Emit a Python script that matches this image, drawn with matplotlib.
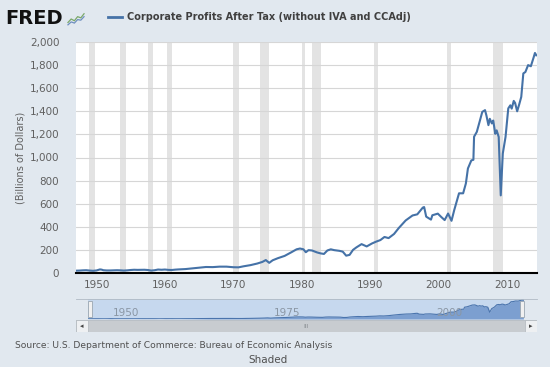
import numpy as np
import matplotlib
matplotlib.use("Agg")
import matplotlib.pyplot as plt
from matplotlib.patches import Rectangle

# quarterly-ish readings, billions of dollars
years = [1947.0, 1947.5, 1948.0, 1948.5, 1949.0, 1949.5, 1950.0, 1950.5, 1950.75,
         1951.0, 1951.5, 1952.0, 1953.0, 1953.5, 1954.0, 1954.5, 1955.0, 1955.5,
         1956.0, 1957.0, 1957.5, 1958.0, 1958.5, 1959.0, 1959.5, 1960.0, 1960.5,
         1961.0, 1961.5, 1962.0, 1963.0, 1964.0, 1965.0, 1966.0, 1967.0, 1968.0,
         1969.0, 1970.0, 1970.75, 1971.5, 1972.5, 1973.5, 1974.25, 1974.75, 1975.25,
         1975.75, 1976.5, 1977.5, 1978.5, 1979.25, 1979.75, 1980.25, 1980.6, 1981.0,
         1981.5, 1982.25, 1982.75, 1983.25, 1983.75, 1984.25, 1984.75, 1985.5, 1986.0,
         1986.5, 1987.0, 1987.5, 1988.0, 1988.75, 1989.5, 1990.25, 1990.9, 1991.5,
         1992.1, 1992.7, 1993.5, 1994.2, 1995.2, 1996.2, 1996.9, 1997.7, 1997.9,
         1998.2, 1998.9, 1999.1, 1999.9, 2000.4, 2000.9, 2001.4, 2001.9, 2002.3,
         2003.0, 2003.6, 2004.0, 2004.3, 2004.8, 2005.1, 2005.2, 2005.6, 2006.0,
         2006.4, 2006.8, 2007.0, 2007.3, 2007.5, 2007.8, 2008.0, 2008.3, 2008.5,
         2008.8, 2009.1, 2009.4, 2009.8, 2010.2, 2010.5, 2010.7, 2011.0, 2011.2,
         2011.5, 2011.8, 2012.1, 2012.4, 2012.7, 2013.1, 2013.5, 2013.9, 2014.1,
         2014.3]
profits = [20, 21, 23, 24, 21, 19, 22, 31, 29,
           24, 22, 22, 24, 23, 21, 23, 26, 28,
           27, 28, 26, 21, 24, 30, 28, 30, 27,
           26, 29, 31, 34, 40, 46, 52, 51, 55,
           55, 50, 49, 58, 68, 82, 96, 112, 88,
           110, 128, 148, 180, 205, 212, 205, 180, 198,
           195, 178, 170, 165, 195, 205, 198, 192, 185,
           150, 157, 200, 222, 250, 230, 255, 272, 285,
           312, 302, 338, 390, 455, 498, 508, 566, 571,
           488, 462, 500, 514, 485, 458, 515, 452, 545,
           690, 690, 775, 905, 975, 980, 1180, 1222, 1308,
           1395, 1410, 1365, 1280, 1335, 1295, 1320, 1205, 1235,
           1178, 672, 1035, 1178, 1425, 1452, 1423, 1490, 1472,
           1400, 1460, 1525, 1728, 1740, 1800, 1790, 1865, 1905,
           1885]

rec_start = [1948.83, 1953.5, 1957.58, 1960.25, 1969.92, 1973.83, 1980.0, 1981.5,
             1990.5, 2001.17, 2007.92]
rec_end = [1949.75, 1954.33, 1958.25, 1961.08, 1970.83, 1975.17, 1980.5, 1982.83,
           1991.17, 2001.83, 2009.42]

yticks = [0, 200, 400, 600, 800, 1000, 1200, 1400, 1600, 1800, 2000]
xticks = [1950, 1960, 1970, 1980, 1990, 2000, 2010]
nav_ticks = [1950, 1975, 2000]

# little logo sparkline
icon_x = [0, 1, 2, 3, 4, 5]
icon_a = [0.2, 0.5, 0.35, 0.7, 0.6, 0.95]
icon_b = [0.0, 0.25, 0.15, 0.45, 0.4, 0.7]

bg = "#e1e8ef"
blue = "#4572a7"
xmin, xmax = 1947.0, 2014.4

fig = plt.figure(figsize=(5.5, 3.67), dpi=100, facecolor=bg)

ax = fig.add_axes([76/550, 1-273/367, 461/550, 231/367])
ax.set_facecolor("white")
for s, e in zip(rec_start, rec_end):
    ax.axvspan(s, e, color="#e3e3e3", lw=0, zorder=0)
ax.plot(years, profits, color=blue, lw=1.5, zorder=3)
ax.set_xlim(xmin, xmax)
ax.set_ylim(0, 2000)
ax.set_yticks(yticks)
ax.set_yticklabels(["{:,}".format(v) for v in yticks])
ax.set_xticks(xticks)
ax.grid(axis="y", color="#d6d6d6", lw=0.8, zorder=1)
ax.tick_params(length=0, labelsize=7.5, labelcolor="#606060", pad=5)
ax.tick_params(axis="y", pad=12)
for sp in ["top", "right", "left"]:
    ax.spines[sp].set_visible(False)
ax.spines["bottom"].set_color("black")
ax.spines["bottom"].set_linewidth(1.5)
ax.spines["bottom"].set_zorder(4)
ax.set_ylabel("(Billions of Dollars)", fontsize=7, color="#606060", labelpad=3)

# navigator
nav = fig.add_axes([88/550, 1-319/367, 436/550, 20/367])
nav.set_facecolor("#c6d8ee")
nav.fill_between(years, profits, color="#7c9fd0", lw=0)
nav.plot(years, profits, color="#4a74ad", lw=0.8)
nav.set_xlim(xmin, xmax)
nav.set_ylim(0, 2000)
nav.set_xticks([])
nav.set_yticks([])
for sp in nav.spines.values():
    sp.set_visible(False)
for t in nav_ticks:
    nav.text(t + 0.8, 0.3, str(t), transform=nav.get_xaxis_transform(),
             fontsize=7.5, color="#8a96a4", va="center", ha="left")
nav.add_patch(Rectangle((0.0, 0.1), 0.009, 0.8, transform=nav.transAxes,
                        facecolor="#f0f0f0", edgecolor="#9aa6b2", lw=0.6, zorder=5, clip_on=False))
nav.add_patch(Rectangle((0.991, 0.1), 0.009, 0.8, transform=nav.transAxes,
                        facecolor="#f0f0f0", edgecolor="#9aa6b2", lw=0.6, zorder=5, clip_on=False))

# outline above navigator
fig.add_artist(plt.Line2D([76/550, 537/550], [1-299/367, 1-299/367],
                          color="#b0bac4", lw=0.6))

# scrollbar
sb = fig.add_axes([76/550, 1-332/367, 461/550, 12/367])
sb.set_xlim(0, 1)
sb.set_ylim(0, 1)
sb.axis("off")
sb.add_patch(Rectangle((0, 0), 1, 1, facecolor="#c8ccd0", edgecolor="#b0b6bc", lw=0.5))
sb.add_patch(Rectangle((0, 0), 12/461, 1, facecolor="#eef0f2", edgecolor="#b0b6bc", lw=0.5))
sb.add_patch(Rectangle((1-12/461, 0), 12/461, 1, facecolor="#eef0f2", edgecolor="#b0b6bc", lw=0.5))
sb.text(6/461, 0.5, "◂", fontsize=5, ha="center", va="center", color="#444")
sb.text(1-6/461, 0.5, "▸", fontsize=5, ha="center", va="center", color="#444")
sb.text(0.5, 0.5, "III", fontsize=4.5, ha="center", va="center", color="#8a8f94")

# header
fig.text(5/550, 1-18/367, "FRED", fontsize=14, fontweight="heavy", color="#111111",
         va="center", ha="left")
ic = fig.add_axes([67/550, 1-26/367, 18/550, 14/367])
ic.plot(icon_x, icon_a, color="#7aa86a", lw=0.9)
ic.plot(icon_x, icon_b, color="#6f8fbf", lw=0.9)
ic.set_xlim(-0.3, 5.3)
ic.set_ylim(-0.1, 1.1)
ic.axis("off")
fig.add_artist(plt.Line2D([108/550, 122/550], [1-17/367, 1-17/367], color=blue, lw=2))
fig.text(127/550, 1-17/367, "Corporate Profits After Tax (without IVA and CCAdj)",
         fontsize=7, fontweight="bold", color="#404040", va="center", ha="left")

fig.text(15/550, 1-345/367, "Source: U.S. Department of Commerce: Bureau of Economic Analysis",
         fontsize=6.6, color="#505050", va="center", ha="left")
fig.text(268/550, 1-360/367, "Shaded", fontsize=7.5, color="#505050", va="center", ha="center")

fig.savefig("out.png", dpi=100, facecolor=bg)
